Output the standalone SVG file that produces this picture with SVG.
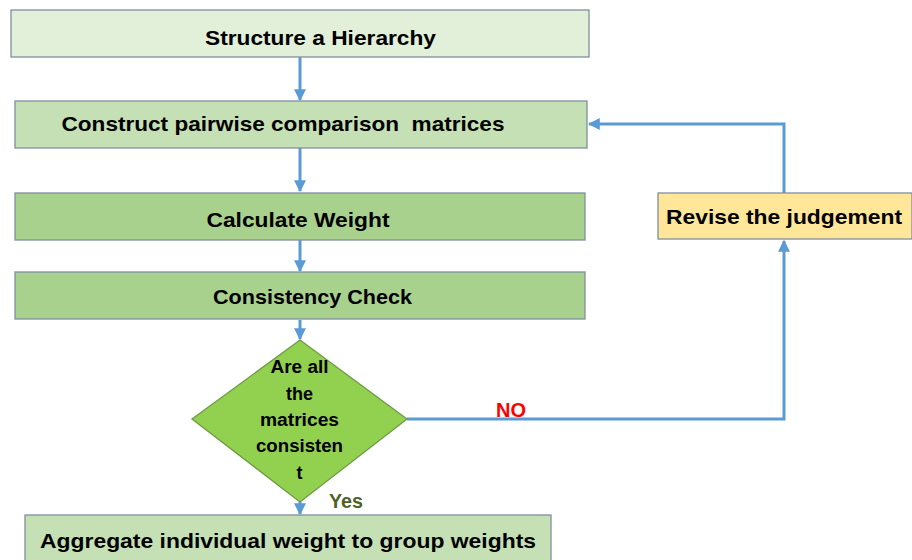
<svg xmlns="http://www.w3.org/2000/svg" width="912" height="560" viewBox="0 0 912 560">
<defs>
<style>
.box{stroke:#7f8fa0;stroke-width:1.3}
.t{font-family:"Liberation Sans",Arial,sans-serif;font-weight:bold;font-size:21px;fill:#000;text-anchor:middle}
.d{font-family:"Liberation Sans",Arial,sans-serif;font-weight:bold;font-size:18px;fill:#000;text-anchor:middle}
.c{fill:none;stroke:#5b9bd5;stroke-width:3}
</style>
<marker id="ah" viewBox="0 0 10 10" refX="9" refY="5" markerWidth="4" markerHeight="4" orient="auto" markerUnits="strokeWidth">
<path d="M0,0 L10,5 L0,10 z" fill="#5b9bd5"/>
</marker>
</defs>
<rect width="912" height="560" fill="#fff"/>
<g id="connectors">
<path class="c" d="M300,57 V100" marker-end="url(#ah)"/>
<path class="c" d="M300,148 V191" marker-end="url(#ah)"/>
<path class="c" d="M300,240 V271" marker-end="url(#ah)"/>
<path class="c" d="M300,320 V339" marker-end="url(#ah)"/>
<path class="c" d="M300,502 V514" marker-end="url(#ah)"/>
<path class="c" d="M407,419 H784 V241" marker-end="url(#ah)"/>
<path class="c" d="M784,193 V124 H589" marker-end="url(#ah)"/>
</g>
<g id="n1">
<rect class="box" x="11" y="10" width="578" height="47" fill="#e2efd9"/>
<text class="t" x="320.5" y="45" textLength="231" lengthAdjust="spacingAndGlyphs">Structure a Hierarchy</text>
</g>
<g id="n2">
<rect class="box" x="15" y="101" width="572" height="47" fill="#c5e0b4"/>
<text class="t" x="283" y="131" textLength="443" lengthAdjust="spacingAndGlyphs">Construct pairwise comparison&#160; matrices</text>
</g>
<g id="n3">
<rect class="box" x="15" y="193" width="570" height="47" fill="#a9d18e"/>
<text class="t" x="298" y="227" textLength="183" lengthAdjust="spacingAndGlyphs">Calculate Weight</text>
</g>
<g id="n4">
<rect class="box" x="15" y="272" width="570" height="47" fill="#a9d18e"/>
<text class="t" x="312.5" y="304" textLength="199" lengthAdjust="spacingAndGlyphs">Consistency Check</text>
</g>
<g id="n5">
<path d="M300,340 L407,419 L300,502 L192,419 Z" fill="#92d050" stroke="#6f9a45" stroke-width="1.3"/>
<text class="d" x="299.5" y="373" textLength="58" lengthAdjust="spacingAndGlyphs">Are all</text>
<text class="d" x="299.5" y="400">the</text>
<text class="d" x="299.5" y="426" textLength="79" lengthAdjust="spacingAndGlyphs">matrices</text>
<text class="d" x="299.5" y="452" textLength="87" lengthAdjust="spacingAndGlyphs">consisten</text>
<text class="d" x="299.5" y="479">t</text>
</g>
<g id="n6">
<rect class="box" x="658" y="193" width="254" height="46" fill="#ffe699"/>
<text class="t" x="784" y="224" textLength="236" lengthAdjust="spacingAndGlyphs">Revise the judgement</text>
</g>
<g id="n7">
<rect class="box" x="25" y="515" width="526" height="55" fill="#c5e0b4"/>
<text class="t" x="288" y="548" textLength="496" lengthAdjust="spacingAndGlyphs">Aggregate individual weight to group weights</text>
</g>
<g id="labels">
<text x="511" y="417" font-family="Liberation Sans,Arial,sans-serif" font-weight="bold" font-size="20" fill="#ff0000" text-anchor="middle">NO</text>
<text x="346" y="508" font-family="Liberation Sans,Arial,sans-serif" font-weight="bold" font-size="20" fill="#4f6228" text-anchor="middle" textLength="34" lengthAdjust="spacingAndGlyphs">Yes</text>
</g>
</svg>
